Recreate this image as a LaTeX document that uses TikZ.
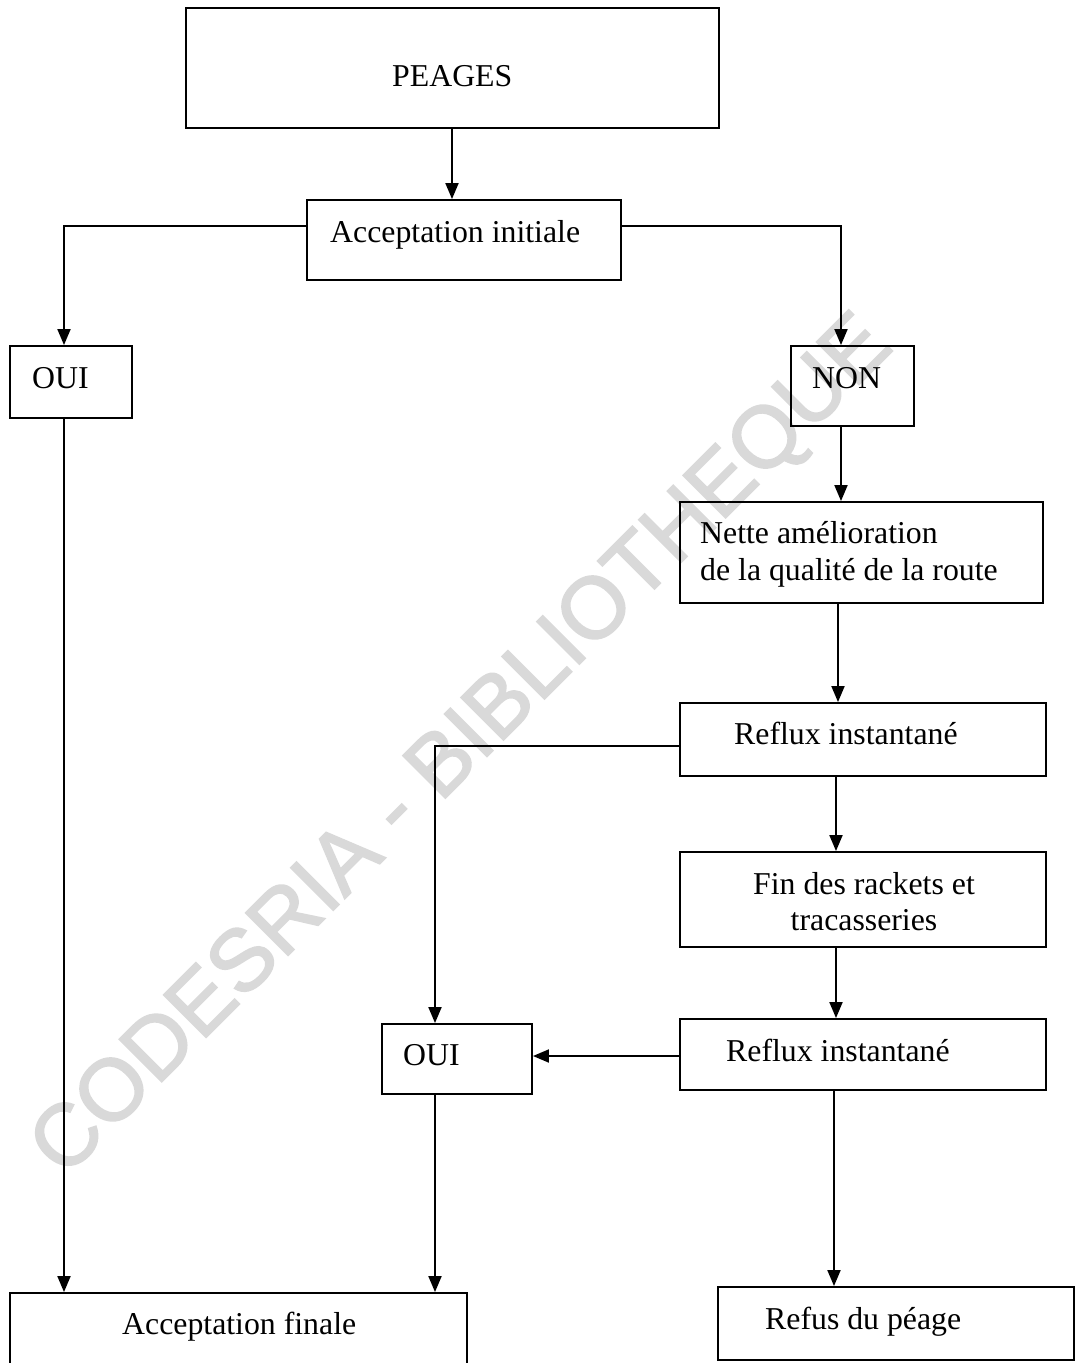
\documentclass[tikz,border=0pt]{standalone}
\usepackage{fontspec}
\setmainfont{Liberation Serif}
\font\wmfnt="Liberation Sans:embolden=2" at 87pt
\usetikzlibrary{arrows.meta}
\definecolor{wmgray}{gray}{0.85}
\begin{document}
\begin{tikzpicture}[x=1pt,y=-1pt,
  box/.style={draw, line width=1.9pt, rectangle, inner sep=0pt},
  txt/.style={inner sep=0pt, font=\fontsize{31.8pt}{37pt}\selectfont},
  arr/.style={line width=1.9pt, -{Triangle[length=16pt,width=13pt]}}]
\useasboundingbox (0,0) rectangle (1076,1363);
\fill[white] (0,0) rectangle (1076,1363);

% watermark
\node[rotate=45, inner sep=0pt, text=wmgray, font=\wmfnt]
  (wm) at (464,748) {CODESRIA - BIBLIOTHEQUE};

% boxes
\node[box, minimum width=533pt, minimum height=120pt] (peages)  at (452.5,68)   {};
\node[box, minimum width=314pt, minimum height=80pt]  (accinit) at (464,240)    {};
\node[box, minimum width=122pt, minimum height=72pt]  (ouiA)    at (71,382)     {};
\node[box, minimum width=123pt, minimum height=80pt]  (non)     at (852.5,386)  {};
\node[box, minimum width=363pt, minimum height=101pt] (nette)   at (861.5,552.5){};
\node[box, minimum width=366pt, minimum height=73pt]  (refluxA) at (863,739.5)  {};
\node[box, minimum width=366pt, minimum height=95pt]  (fin)     at (863,899.5)  {};
\node[box, minimum width=366pt, minimum height=71pt]  (refluxB) at (863,1054.5) {};
\node[box, minimum width=150pt, minimum height=70pt]  (ouiB)    at (457,1059)   {};
\node[box, minimum width=457pt, minimum height=79pt]  (accfin)  at (238.5,1332.5){};
\node[box, minimum width=356pt, minimum height=73pt]  (refus)   at (896,1323.5) {};

% labels
\node[txt, anchor=base west] (tPeages)  at (392,86)   {PEAGES};
\node[txt, anchor=base west] (tAccinit) at (330,242)  {Acceptation initiale};
\node[txt, anchor=base west] (tOuiA)    at (32,388)   {OUI};
\node[txt, anchor=base west] (tNon)     at (812,388)  {NON};
\node[txt, anchor=base west] (tNetteA)  at (700,543)  {Nette amélioration};
\node[txt, anchor=base west] (tNetteB)  at (700,580)  {de la qualité de la route};
\node[txt, anchor=base west] (tRefluxA) at (734,744)  {Reflux instantané};
\node[txt, anchor=base]      (tFinA)    at (864,894)  {Fin des rackets et};
\node[txt, anchor=base]      (tFinB)    at (864,930)  {tracasseries};
\node[txt, anchor=base west] (tRefluxB) at (726,1061) {Reflux instantané};
\node[txt, anchor=base west] (tOuiB)    at (403,1065) {OUI};
\node[txt, anchor=base west] (tAccfin)  at (122,1334) {Acceptation finale};
\node[txt, anchor=base west] (tRefus)   at (765,1329) {Refus du péage};

% connector end points
\coordinate (pS) at ([xshift=-0.5pt]peages.south);
\coordinate (aW) at ([yshift=14pt]accinit.west);
\coordinate (aE) at ([yshift=14pt]accinit.east);
\coordinate (oAN) at ([xshift=-7pt]ouiA.north);
\coordinate (oAS) at ([xshift=-7pt]ouiA.south);
\coordinate (nN) at ([xshift=-11.5pt]non.north);
\coordinate (nS) at ([xshift=-11.5pt]non.south);
\coordinate (neS) at ([xshift=-23.5pt]nette.south);
\coordinate (rAW) at ([yshift=-6.5pt]refluxA.west);
\coordinate (rAS) at ([xshift=-27pt]refluxA.south);
\coordinate (fS) at ([xshift=-27pt]fin.south);
\coordinate (rBW) at ([yshift=-1.5pt]refluxB.west);
\coordinate (rBS) at ([xshift=-29pt]refluxB.south);
\coordinate (oBN) at ([xshift=-22pt]ouiB.north);
\coordinate (oBS) at ([xshift=-22pt]ouiB.south);

% connectors
\draw[arr] (pS) -- (pS |- accinit.north);
\draw[arr] (aW) -| (oAN);
\draw[arr] (aE) -| (nN);
\draw[arr] (nS) -- (nS |- nette.north);
\draw[arr] (neS) -- (neS |- refluxA.north);
\draw[arr] (rAS) -- (rAS |- fin.north);
\draw[arr] (fS) -- (fS |- refluxB.north);
\draw[arr] (rAW) -| (oBN);
\draw[arr] (rBW) -- (rBW -| ouiB.east);
\draw[arr] (oAS) -- (oAS |- accfin.north);
\draw[arr] (oBS) -- (oBS |- accfin.north);
\draw[arr] (rBS) -- (rBS |- refus.north);
\end{tikzpicture}
\end{document}
